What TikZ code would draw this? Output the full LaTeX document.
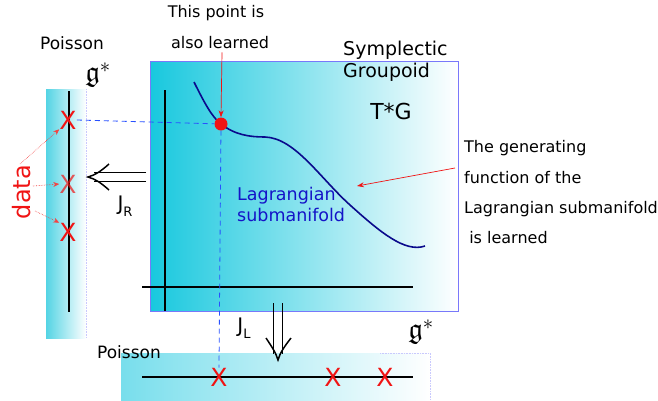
\documentclass[tikz,border=0pt]{standalone}
\usepackage{amssymb}
\usepackage{fontspec}
\setmainfont{DejaVu Sans}
\usetikzlibrary{arrows.meta}
\definecolor{cyanA}{RGB}{24,200,222}
\definecolor{cyanB}{RGB}{84,212,228}
\definecolor{cyanC}{RGB}{120,222,236}
\definecolor{boxedge}{RGB}{120,120,250}
\definecolor{dashblue}{RGB}{40,80,255}
\definecolor{curveblue}{RGB}{10,10,140}
\definecolor{lagblue}{RGB}{20,20,200}
\definecolor{markred}{RGB}{240,20,20}
\tikzset{
  axisline/.style={black, line width=2.4pt},
  xmark/.style={text=markred, font=\fontsize{25}{25}\selectfont, inner sep=0pt},
  redarrow/.style={markred, line width=0.7pt, -{Stealth[length=7pt,width=5pt]}},
  dataarrow/.style={markred!80, line width=0.6pt, densely dotted, -{Stealth[length=6pt,width=5pt]}},
  dasharrow/.style={dashblue, line width=0.8pt, dash pattern=on 5pt off 4pt},
  bigline/.style={black, line width=1.5pt},
  chev/.style={black, line width=1.5pt, line join=miter},
  frak/.style={font=\fontsize{29}{29}\selectfont, inner sep=0pt},
  stripedge/.style={boxedge!40, line width=0.6pt, densely dotted},
  txt/.style={font=\fontsize{16}{16}\selectfont, inner sep=0pt}
}
\begin{document}
\begin{tikzpicture}[x=1pt,y=-1pt]
\useasboundingbox (0,0) rectangle (658,400);
% main box
\shade[left color=cyanA, middle color=cyanA!60!white, right color=white] (150,61) rectangle (458,311);
\draw[boxedge, line width=1pt] (150,61) rectangle (458,311);
% left strip
\shade[left color=cyanB, right color=white] (46,89) rectangle (86,338);
\draw[stripedge] (86,89) -- (86,338);
% bottom strip
\shade[left color=cyanC, right color=white] (121,353) rectangle (430,400);
\draw[stripedge] (380,353) -- (430,353) -- (430,400);
% axes
\draw[axisline] (165,90) -- (165,311);
\draw[axisline] (142,287) -- (413,287);
\draw[axisline] (69,91) -- (69,312);
\draw[axisline] (142,377) -- (413,377);
% curve
\draw[curveblue, line width=1.6pt] (194,82) .. controls (205,104) and (212,117) .. (221,124)
  .. controls (235,135) and (250,137) .. (265,137)
  .. controls (295,138) and (320,178) .. (350,205)
  .. controls (380,232) and (405,253) .. (425,246);
% point
\node[circle, fill=markred, minimum size=13pt, inner sep=0pt] (pt) at (221,124) {};
% marks
\node[xmark] (x1) at (68,120) {X};
\node[xmark, opacity=0.7] (x2) at (68,184) {X};
\node[xmark] (x3) at (68,232) {X};
\node[xmark] (b1) at (219,377) {X};
\node[xmark] (b2) at (333,377) {X};
\node[xmark] (b3) at (385,377) {X};
% dashed guides
\draw[dasharrow] (x1.east) -- (pt);
\draw[dasharrow] (pt) -- (b1.north);
% texts
\node[txt] (t1) at (216,13) {This point is};
\node[txt] (t2) at (220,43) {also learned};
\draw[redarrow] (t2.south) ++(2,3) coordinate (t2s) -- (pt.north);
\node[font=\fontsize{19}{19}\selectfont, anchor=west, inner sep=0pt] (sym) at (343,50) {Symplectic};
\node[font=\fontsize{19}{19}\selectfont, anchor=west, inner sep=0pt] (grp) at (343,72) {Groupoid};
\node[font=\fontsize{22}{22}\selectfont] (tg) at (391,111) {T*G};
\node[font=\fontsize{17.5}{17.5}\selectfont, text=lagblue, anchor=west, inner sep=0pt] (lag1) at (237,196) {Lagrangian};
\node[font=\fontsize{17.5}{17.5}\selectfont, text=lagblue, anchor=west, inner sep=0pt] (lag2) at (237,215) {submanifold};
\node[txt, anchor=west] (g1) at (464,148) {The generating};
\node[txt, anchor=west] (g2) at (464,178) {function of the};
\node[txt, anchor=west] (g3) at (464,209) {Lagrangian submanifold};
\node[txt, anchor=west] (g4) at (464,238) {\ is learned};
\coordinate (garr) at (455,168);
\coordinate (gtip) at (357,186);
\draw[redarrow] (garr) -- (gtip);
\node[font=\fontsize{17}{17}\selectfont] (p1) at (72,43) {Poisson};
\node[font=\fontsize{17}{17}\selectfont] (p2) at (129,352) {Poisson};
\node[frak] (gs1) at (98,75) {$\mathfrak{g}^*$};
\node[frak] (gs2) at (421,332) {$\mathfrak{g}^*$};
\node[font=\fontsize{20}{20}\selectfont] (jr) at (125,206) {J\raisebox{-6pt}{\fontsize{13}{13}\selectfont R}};
\node[font=\fontsize{20}{20}\selectfont] (jl) at (244,328) {J\raisebox{-6pt}{\fontsize{13}{13}\selectfont L}};
% big double arrow J_R (leftwards)
\coordinate (latip) at (88,177);
\draw[bigline] (146,172.5) -- (94,172.5);
\draw[bigline] (146,181.5) -- (94,181.5);
\draw[chev] (109,164) .. controls (100,172) and (95,175) .. (latip) .. controls (95,179) and (100,182) .. (109,190);
% big double arrow J_L (downwards)
\coordinate (datip) at (278,360);
\draw[bigline] (273.5,303) -- (273.5,354);
\draw[bigline] (282.5,303) -- (282.5,354);
\draw[chev] (266,338) .. controls (272,347) and (276,353) .. (datip) .. controls (280,353) and (284,347) .. (291,338);
% data
\node[font=\fontsize{24}{24}\selectfont, text=markred, rotate=90] (data) at (22,192) {data};
\draw[dataarrow] (20,164) -- (x1.south west);
\draw[dataarrow] (33,186) -- (x2.west);
\draw[dataarrow] (35,211) -- (x3.north west);
\end{tikzpicture}
\end{document}
